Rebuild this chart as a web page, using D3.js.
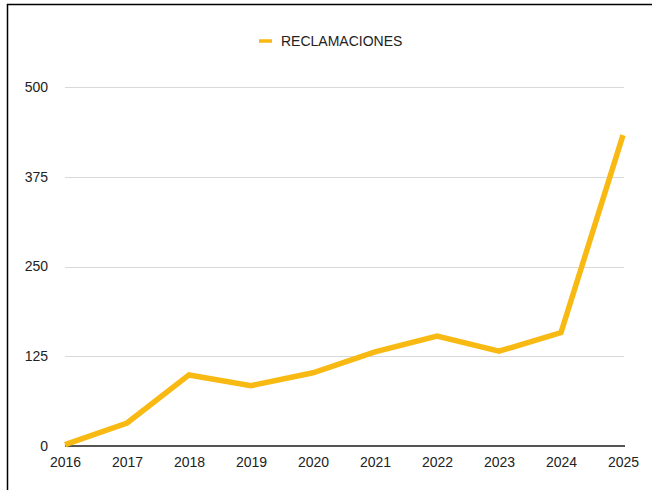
<!DOCTYPE html>
<html>
<head>
<meta charset="utf-8">
<script src="https://cdn.jsdelivr.net/npm/d3@7"></script>
<style>
  html, body { margin: 0; padding: 0; background: #fff; }
  #chart { width: 652px; height: 490px; }
</style>
</head>
<body>
<div id="chart"></div>
<script>
const years = [2016, 2017, 2018, 2019, 2020, 2021, 2022, 2023, 2024, 2025];
const reclamaciones = [2, 32, 99, 84, 102, 131, 153, 132, 158, 433];
const yTicks = [0, 125, 250, 375, 500];
const seriesName = "RECLAMACIONES";

const W = 652, H = 490;
const M = { top: 87, right: 29, bottom: 44, left: 65 };
const iW = W - M.left - M.right;
const iH = H - M.top - M.bottom;
const color = "#f8b912";
const font = "'Liberation Sans', Arial, Helvetica, sans-serif";

const svg = d3.select("#chart").append("svg")
  .attr("width", W).attr("height", H)
  .attr("viewBox", `0 0 ${W} ${H}`);

// frame (left + top only, like the crop)
svg.append("path")
  .attr("d", `M7.5,${H} L7.5,4.5 L${W},4.5`)
  .attr("fill", "none").attr("stroke", "#000").attr("stroke-width", 1.5);

const g = svg.append("g").attr("transform", `translate(${M.left},${M.top})`);

const x = d3.scalePoint().domain(years).range([0, iW]);
const y = d3.scaleLinear().domain([0, 500]).range([iH, 0]);

// Grid
g.append("g").selectAll("line")
  .data(yTicks.filter(d => d > 0)).enter().append("line")
  .attr("x1", 0).attr("x2", iW + 1)
  .attr("y1", d => Math.round(y(d)) + 0.5).attr("y2", d => Math.round(y(d)) + 0.5)
  .attr("stroke", "#d9d9d9").attr("stroke-width", 1);

// Y axis labels
g.append("g")
  .call(d3.axisLeft(y).tickValues(yTicks).tickSize(0).tickPadding(17))
  .call(ax => ax.select(".domain").remove())
  .call(ax => ax.selectAll("text")
    .style("fill", "#222")
    .style("font-family", font)
    .style("font-size", "14px"));

// X axis
g.append("g").attr("transform", `translate(0,${iH})`)
  .call(d3.axisBottom(x).tickSize(0).tickPadding(11))
  .call(ax => ax.select(".domain").remove())
  .call(ax => ax.selectAll("text")
    .style("fill", "#222")
    .style("font-family", font)
    .style("font-size", "14px"));

g.append("line")
  .attr("x1", 0).attr("x2", iW + 2)
  .attr("y1", iH).attr("y2", iH)
  .attr("stroke", "#555").attr("stroke-width", 2);

// Line
const line = d3.line()
  .x((_, i) => x(years[i]))
  .y(d => y(d));

g.append("path")
  .datum(reclamaciones)
  .attr("fill", "none")
  .attr("stroke", color)
  .attr("stroke-width", 5.5)
  .attr("stroke-linejoin", "miter")
  .attr("d", line);

// Legend
const lg = svg.append("g").attr("transform", "translate(259,41)");
lg.append("line")
  .attr("x1", 0).attr("x2", 13).attr("y1", 0).attr("y2", 0)
  .attr("stroke", color).attr("stroke-width", 3.5);
lg.append("text")
  .attr("x", 22).attr("y", 0).attr("dy", "0.35em")
  .style("fill", "#222")
  .style("font-family", font)
  .style("font-size", "14px")
  .text(seriesName);
</script>
</body>
</html>
